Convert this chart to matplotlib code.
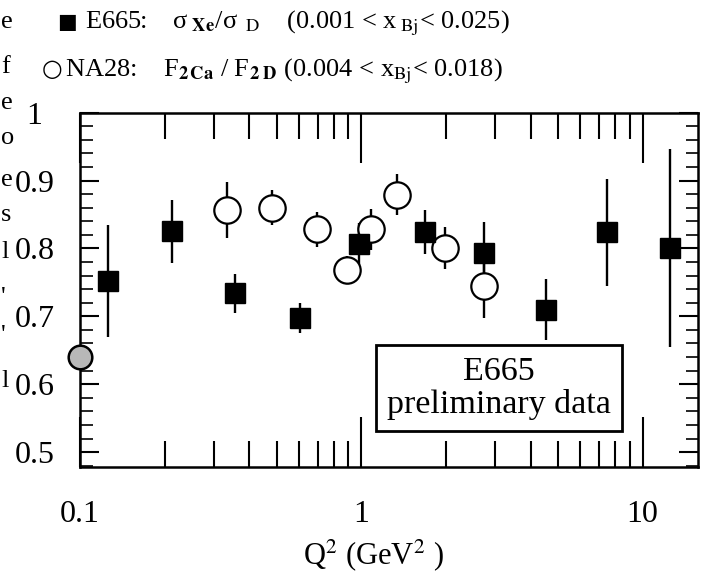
import matplotlib
matplotlib.use('Agg')
import matplotlib.pyplot as plt
from matplotlib.ticker import FixedLocator, FixedFormatter, MultipleLocator, LogLocator, NullFormatter

plt.rcParams['font.family'] = ['Liberation Serif', 'DejaVu Serif']
plt.rcParams['mathtext.fontset'] = 'stix'

# E665: sigma_Xe / sigma_D
e665_q2 = [0.126, 0.213, 0.356, 0.607, 0.98, 1.68, 2.74, 4.52, 7.5, 12.5]
e665_ratio = [0.752, 0.825, 0.734, 0.697, 0.807, 0.824, 0.794, 0.710, 0.824, 0.801]
e665_err = [0.082, 0.047, 0.029, 0.022, 0.031, 0.032, 0.045, 0.045, 0.079, 0.146]

# NA28: F2Ca / F2D
na28_q2 = [0.334, 0.482, 0.697, 0.891, 1.085, 1.343, 1.99, 2.74]
na28_ratio = [0.857, 0.860, 0.828, 0.769, 0.828, 0.879, 0.801, 0.744]
na28_err = [0.041, 0.026, 0.026, 0.020, 0.030, 0.030, 0.031, 0.047]

# grey point at the left edge
edge_q2 = [0.1]
edge_ratio = [0.64]

x_ticks = [0.1, 1, 10]
x_labels = ['0.1', '1', '10']
y_ticks = [0.5, 0.6, 0.7, 0.8, 0.9, 1.0]
y_labels = ['0.5', '0.6', '0.7', '0.8', '0.9', '1']

fig = plt.figure(figsize=(7.09, 5.78), dpi=100)
ax = fig.add_axes([0.113, 0.192, 0.872, 0.613])

ax.errorbar(e665_q2, e665_ratio, yerr=e665_err, fmt='none', ecolor='k', elinewidth=1.7, capsize=0, zorder=2)
ax.errorbar(na28_q2, na28_ratio, yerr=na28_err, fmt='none', ecolor='k', elinewidth=1.7, capsize=0, zorder=2)
ax.plot(na28_q2, na28_ratio, 'o', ms=19, mfc='white', mec='k', mew=1.6, ls='none', zorder=3)
ax.plot(e665_q2, e665_ratio, 's', ms=14.5, mfc='k', mec='k', ls='none', zorder=4)
ax.plot(edge_q2, edge_ratio, 'o', ms=17, mfc='0.72', mec='k', mew=1.8, ls='none', zorder=5, clip_on=False)

ax.set_xscale('log')
ax.set_xlim(0.1, 15.8)
ax.set_ylim(0.478, 1.0)

ax.xaxis.set_major_locator(FixedLocator(x_ticks))
ax.xaxis.set_major_formatter(FixedFormatter(x_labels))
ax.xaxis.set_minor_locator(LogLocator(subs=range(2, 10)))
ax.xaxis.set_minor_formatter(NullFormatter())
ax.yaxis.set_major_locator(FixedLocator(y_ticks))
ax.yaxis.set_major_formatter(FixedFormatter(y_labels))
ax.yaxis.set_minor_locator(MultipleLocator(0.02))

ax.tick_params(which='both', direction='in', top=True, right=True, colors='k')
ax.tick_params(axis='x', which='major', length=36, width=1.5, pad=24, labelsize=23)
ax.tick_params(axis='x', which='minor', length=19, width=1.5)
ax.tick_params(axis='y', which='major', length=14, width=1.5, pad=33, labelsize=23)
ax.tick_params(axis='y', which='minor', length=9, width=1.2)
for lab in ax.get_yticklabels():
    lab.set_horizontalalignment('center')

for sp in ax.spines.values():
    sp.set_linewidth(1.8)

ax.set_xlabel(r'Q$^2$ (GeV$^2$ )', fontsize=22, va='center')
ax.xaxis.set_label_coords(0.474, -0.249)

ax.text(0.678, 0.223, 'E665\npreliminary data', transform=ax.transAxes, ha='center', va='center',
        fontsize=24.5, linespacing=1.1, multialignment='center',
        bbox=dict(boxstyle='square,pad=0.33', fc='white', ec='k', lw=2), zorder=6)

# legend lines above the frame
fig.text(57 / 709, 1 - 28 / 578, '\u25a0', fontsize=15, family=['DejaVu Sans'], va='baseline')
fig.text(85 / 709, 1 - 28 / 578,
         'E665:    \u03c3' + r'$_{\ \mathbf{Xe}}$' + '/\u03c3' + r'$_{\ \ \mathrm{D}}$'
         + '    (0.001 < x' + r'$_{\ \mathrm{Bj}}$' + '< 0.025)',
         fontsize=19, va='baseline')
fig.text(42 / 709, 1 - 76 / 578, '\u25cb', fontsize=17, family=['DejaVu Sans'], va='baseline')
fig.text(65 / 709, 1 - 76 / 578,
         'NA28:    F' + r'$_{\mathbf{2\,Ca}}$' + ' / F' + r'$_{\mathbf{2\ D}}$'
         + ' (0.004 < x' + r'$_{\mathrm{Bj}}$' + '< 0.018)',
         fontsize=19, va='baseline')

# letters from the neighbouring page column
for ch, yy in [('e', 22), ('f', 67), ('e', 103), ('o', 138), ('e', 180), ('s', 215),
               ('l', 252), ("'", 298), ("'", 336), ('l', 381)]:
    fig.text(1 / 709, 1 - yy / 578, ch, fontsize=19, ha='left', va='center')

fig.savefig('out.png', dpi=100)
